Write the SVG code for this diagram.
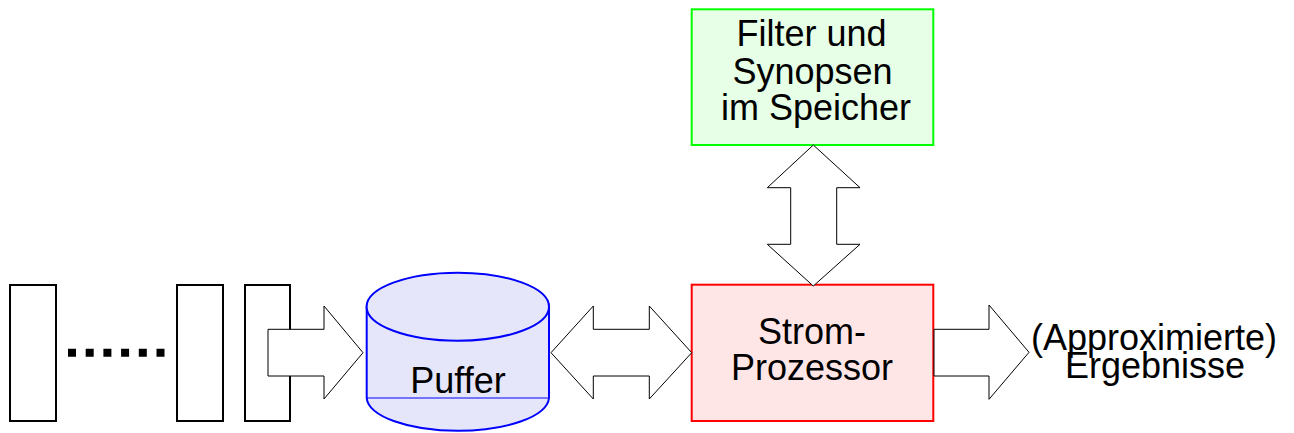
<svg xmlns="http://www.w3.org/2000/svg" width="1294" height="433" viewBox="0 0 1294 433">
<style>
.lbl{font-family:"Liberation Sans",Arial,sans-serif;font-size:36px;fill:#000;text-anchor:middle}
.frame{fill:#fff;stroke:#000;stroke-width:2}
.arrow{fill:#fff;stroke:#000;stroke-width:1}
</style>
<rect width="1294" height="433" fill="#fff"/>
<g id="stream">
<rect class="frame" x="10" y="285" width="46" height="136"/>
<line x1="68" y1="352.7" x2="166" y2="352.7" stroke="#000" stroke-width="8" stroke-dasharray="8 9.7"/>
<rect class="frame" x="177" y="285" width="46" height="136"/>
<rect class="frame" x="245" y="285" width="45" height="136"/>
</g>
<g id="puffer">
<path d="M366.7,306.7 L366.7,398 A91.2,34 0 0 0 549,398 L549,306.7 A91.2,34 0 0 0 366.7,306.7 Z" fill="#e6e6fa" stroke="#0000ff" stroke-width="2"/>
<ellipse cx="457.8" cy="306.7" rx="91.2" ry="34" fill="#e6e6fa" stroke="#0000ff" stroke-width="2"/>
<line x1="366.7" y1="398" x2="549" y2="398" stroke="#0000ff" stroke-width="1"/>
<text class="lbl" x="458" y="392.7">Puffer</text>
</g>
<g id="filter">
<rect x="691.7" y="9.3" width="241.6" height="135.7" fill="#e6ffe6" stroke="#00ff00" stroke-width="2"/>
<text class="lbl" x="811.5" y="46">Filter und</text>
<text class="lbl" x="812.5" y="84">Synopsen</text>
<text class="lbl" x="816" y="120">im Speicher</text>
</g>
<g id="prozessor">
<rect x="691.7" y="284.7" width="241.6" height="136.3" fill="#ffe6e6" stroke="#ff0000" stroke-width="2"/>
<text class="lbl" x="812" y="344">Strom-</text>
<text class="lbl" x="812" y="380">Prozessor</text>
</g>
<g id="ergebnisse">
<text class="lbl" x="1154" y="350">(Approximierte)</text>
<text class="lbl" x="1155" y="378">Ergebnisse</text>
</g>
<g id="connectors">
<polygon class="arrow" points="268,329.3 324,329.3 324,306 363,352.7 324,399 324,376 268,376"/>
<polygon class="arrow" points="551,352.7 593.3,306 593.3,329.3 649.3,329.3 649.3,306 691.7,352.7 649.3,399 649.3,376 593.3,376 593.3,399"/>
<polygon class="arrow" points="813.3,145 860,187.7 836.7,187.7 836.7,244.3 860,244.3 813.3,286 767.3,244.3 790.7,244.3 790.7,187.7 767.3,187.7"/>
<polygon class="arrow" points="934,329.3 989,329.3 989,305 1029,352.3 989,399.3 989,376 934,376"/>
</g>
</svg>
